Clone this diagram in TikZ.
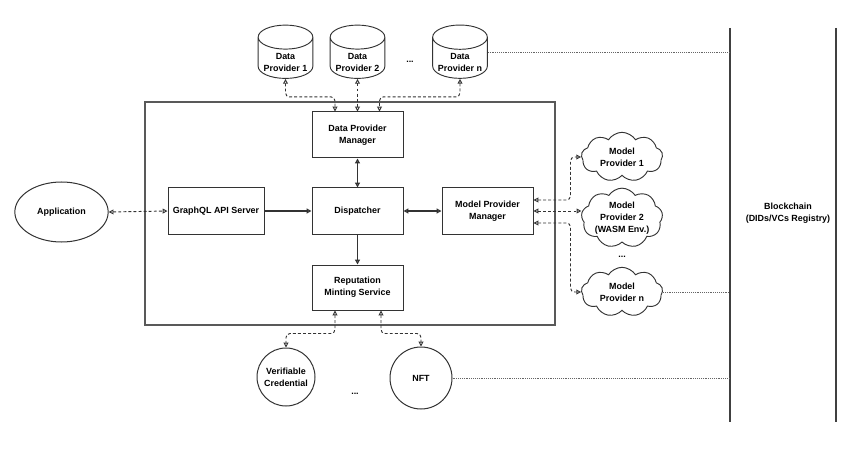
\documentclass[tikz,border=0pt]{standalone}
\usepackage{fontspec}
\setmainfont{Liberation Sans}
\usetikzlibrary{arrows.meta,calc,shapes.geometric,shapes.symbols}
\definecolor{ln}{HTML}{333333}
\newcommand{\dbtext}[1]{\raisebox{-5.5pt}[0pt][0pt]{\begin{tabular}{@{}c@{}}#1\end{tabular}}}
\begin{document}
\begin{tikzpicture}[x=0.75pt,y=-0.75pt,
  >={Triangle[open, length=3.6pt, width=3.6pt]},
  every node/.style={font=\fontsize{6.7}{8.8}\selectfont\bfseries, align=center, text=black},
  box/.style={draw=ln, line width=0.75pt, rectangle, minimum width=68.25pt, minimum height=34.5pt, inner sep=1pt},
  dbase/.style={draw=ln, line width=0.7pt, cylinder, shape border rotate=90, aspect=0.55, minimum width=41pt, minimum height=40pt, inner sep=0pt},
  cloudy/.style={draw=ln, line width=0.7pt, cloud, cloud puffs=9, cloud puff arc=115, aspect=1.6, minimum width=61pt, minimum height=37pt, inner sep=0pt},
  roundy/.style={draw=ln, line width=0.75pt, circle, inner sep=0pt},
  solidc/.style={draw=ln, line width=0.9pt, <->},
  solida/.style={draw=ln, line width=0.9pt, ->},
  dash2/.style={draw=ln, line width=0.7pt, dash pattern=on 2.2pt off 1.6pt, <->, rounded corners=3pt},
  dotc/.style={draw=black!60, line width=0.5pt, dash pattern=on 0.7pt off 0.7pt},
  frame/.style={draw=black!65, line width=0.9pt}
]
\useasboundingbox (0,0) rectangle (860,449);

% outer container
\draw[frame] (145,102) rectangle (555,325);

% blockchain lane
\draw[frame, draw=black!75, line width=0.8pt] (730,28) -- (730,422);
\draw[frame, draw=black!75, line width=0.8pt] (836,28) -- (836,422);
\coordinate (bcl) at (730,0);
\node (bc) at (788,213) {Blockchain\\(DIDs/VCs Registry)};

% data providers
\node[dbase] (dp1) at (285.5,58) {\dbtext{Data\\Provider 1}};
\node[dbase] (dp2) at (357.5,58) {\dbtext{Data\\Provider 2}};
\node[dbase] (dpn) at (460,58) {\dbtext{Data\\Provider n}};
\node (dpdots) at (410,62) {...};

% inner boxes
\node[box] (dpm) at (357.5,135) {Data Provider\\Manager};
\node[box] (disp) at (357.5,211) {Dispatcher};
\node[box, minimum width=72pt] (gql) at (216,211) {GraphQL API Server};
\node[box] (mpm) at (487.5,211) {Model Provider\\Manager};
\node[box, minimum height=33.75pt] (rms) at (357.5,287.5) {Reputation\\Minting Service};

% application
\node[draw=ln, line width=0.75pt, ellipse, minimum width=70pt, minimum height=45pt, inner sep=0pt] (app) at (61.5,212) {Application};

% model providers
\node[cloudy] (mp1) at (622,157) {Model\\Provider 1};
\node[cloudy, minimum height=40pt] (mp2) at (622,218) {Model\\Provider 2\\(WASM Env.)};
\node[cloudy] (mpn) at (622,292) {Model\\Provider n};
\node (mpdots) at (622,257) {...};

% credentials
\node[roundy, minimum size=43.5pt] (vc) at (286,377) {Verifiable\\Credential};
\node[roundy, minimum size=46.5pt] (nft) at (421,378) {NFT};
\node (vcdots) at (355,394) {...};

% connectors: data providers
\draw[dash2] (dp1.south) -- ++(0,18) -| ($(dpm.north)+(-22.5,0)$);
\draw[dash2] (dp2.south) -- (dpm.north);
\draw[dash2] (dpn.south) -- ++(0,18) -| ($(dpm.north)+(22,0)$);

% solid internal
\draw[solidc] (dpm.south) -- (disp.north);
\draw[solida] (gql.east) -- (disp.west);
\draw[solidc] (disp.east) -- (mpm.west);
\draw[solida] (disp.south) -- (rms.north);

% application
\draw[dash2] (app.east) -- (gql.west);

% model providers
\draw[dash2] ($(mpm.east)+(0,-11)$) -- ++(37,0) |- (mp1.west);
\draw[dash2] (mpm.east) -- (mpm.east -| mp2.west);
\draw[dash2] ($(mpm.east)+(0,12)$) -- ++(37,0) |- (mpn.west);

% credentials
\draw[dash2] ($(rms.south)+(-22.5,0)$) -- ++(0,23) -| (vc.north);
\draw[dash2] ($(rms.south)+(23.5,0)$) -- ++(0,23) -| (nft.north);

% blockchain links
\draw[dotc] ([yshift=4pt]dpn.east) -- ([yshift=4pt]dpn.east -| bcl);
\draw[dotc] (mpn.east) -- (mpn.east -| bcl);
\draw[dotc] (nft.east) -- (nft.east -| bcl);
\end{tikzpicture}
\end{document}
